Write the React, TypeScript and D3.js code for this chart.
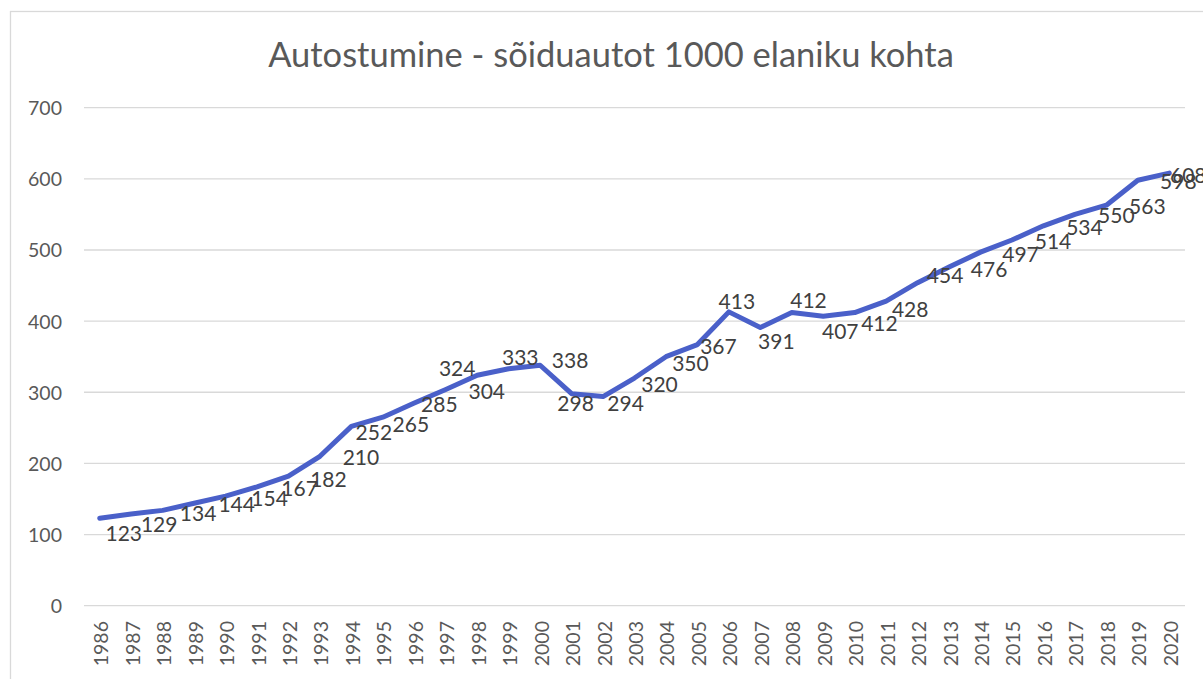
import React from "react";
import * as d3 from "d3";

const title = "Autostumine - sõiduautot 1000 elaniku kohta";
const years = [
  "1986", "1987", "1988", "1989", "1990", "1991", "1992", "1993", "1994", "1995",
  "1996", "1997", "1998", "1999", "2000", "2001", "2002", "2003", "2004", "2005",
  "2006", "2007", "2008", "2009", "2010", "2011", "2012", "2013", "2014", "2015",
  "2016", "2017", "2018", "2019", "2020",
];
const values = [
  123, 129, 134, 144, 154, 167, 182, 210, 252, 265,
  285, 304, 324, 333, 338, 298, 294, 320, 350, 367,
  413, 391, 412, 407, 412, 428, 454, 476, 497, 514,
  534, 550, 563, 598, 608,
];
const yTicks = [0, 100, 200, 300, 400, 500, 600, 700];

// data-label placement relative to its point (as positioned in the source chart)
const labelDx = [24, 28, 35.5, 42.6, 44, 42.6, 40, 41, 22.5, 28, 25, 41, -20, 11.6, 30, 4, 22.5, 25, 24.5, 21, 8, 16, 16.7, 17, 24.7, 24, 27.5, 40, 40, 41, 41, 41.4, 41, 40.5, 19];
const labelDy = [14.3, 10, 2.6, 0.4, 1.4, 1, 2, 0.4, 5, 6, 1, 0.6, -7.7, -12, -5.7, 9.3, 5.5, 5, 5.3, 0.4, -11, 13, -12.6, 14, 10.4, 6.8, -8.7, 1, 1, 0.5, 0.7, 0, 0.8, 0, 1];

const W = 1203;
const H = 679;
const FONT = "Lato, 'Open Sans', sans-serif";

export default function App() {
  const x = d3.scaleBand<string>().domain(years).range([84, 1185]).paddingInner(0).paddingOuter(0);
  const y = d3.scaleLinear().domain([0, 700]).range([605.7, 107.7]);
  const cx = (yr: string) => (x(yr) as number) + x.bandwidth() / 2;

  const line = d3
    .line<number>()
    .x((_, i) => cx(years[i]))
    .y((v) => y(v));

  return (
    <svg
      width={W}
      height={H}
      style={{ position: "absolute", left: 0, top: 0, background: "#fff" }}
    >
      <rect x={0} y={0} width={W} height={H} fill="#fff" />
      <rect x={10.5} y={11.5} width={1260} height={720} fill="#fff" stroke="#d9d9d9" strokeWidth={1.3} />
      <text
        x={611}
        y={67}
        textAnchor="middle"
        fontFamily={FONT}
        fontSize={34.5}
        fill="#595959"
      >
        {title}
      </text>
      {yTicks.map((t) => (
        <g key={t}>
          <line x1={84} x2={1185} y1={y(t)} y2={y(t)} stroke="#d9d9d9" strokeWidth={1.3} />
          <text
            x={62}
            y={y(t)}
            textAnchor="end"
            dominantBaseline="central"
            fontFamily={FONT}
            fontSize={19.5}
            fill="#595959"
          >
            {t}
          </text>
        </g>
      ))}
      {years.map((yr) => (
        <text
          key={yr}
          transform={`translate(${cx(yr) + 1},${621}) rotate(-90)`}
          textAnchor="end"
          dominantBaseline="central"
          fontFamily={FONT}
          fontSize={19.5}
          fill="#595959"
        >
          {yr}
        </text>
      ))}
      <path
        d={line(values) || ""}
        fill="none"
        stroke="#4a60c9"
        strokeWidth={5}
        strokeLinejoin="round"
        strokeLinecap="round"
      />
      {values.map((v, i) => (
        <text
          key={i}
          x={cx(years[i]) + labelDx[i]}
          y={y(v) + labelDy[i]}
          textAnchor="middle"
          dominantBaseline="central"
          fontFamily={FONT}
          fontSize={21}
          fill="#404040"
        >
          {v}
        </text>
      ))}
    </svg>
  );
}
